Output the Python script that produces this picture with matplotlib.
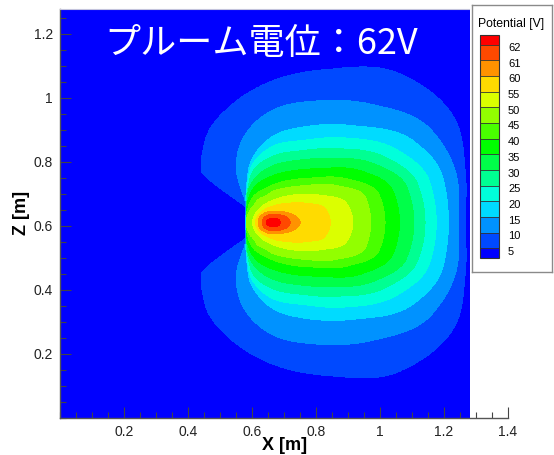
import numpy as np
import matplotlib.pyplot as plt
from matplotlib.ticker import MultipleLocator
from matplotlib.transforms import ScaledTranslation

plt.rcParams['font.family'] = ['Liberation Sans', 'DejaVu Sans']

#---    Plume potential: radius [m] of each potential level along rays from the peak
x_peak, z_peak = 0.667, 0.611
v_peak = 63.0
x_end = 1.278          # edge of the computational domain (X and Z)

angles = [0, 15, 30, 50, 70, 90, 110, 125, 135, 140, 145, 150, 165, 180]   # deg, mirrored below the axis
levels = [62, 61, 60, 55, 50, 45, 40, 35, 30, 25, 20, 15, 10, 5]

r62 = [0.021, 0.020, 0.0177, 0.0151, 0.0135, 0.013, 0.0135, 0.0146, 0.0156, 0.0163, 0.017, 0.0177, 0.020, 0.021]
r61 = [0.052, 0.0472, 0.0389, 0.0308, 0.0267, 0.0255, 0.0262, 0.0277, 0.0291, 0.030, 0.0308, 0.0317, 0.034, 0.035]
r60 = [0.083, 0.0726, 0.0567, 0.0433, 0.037, 0.0352, 0.0362, 0.0382, 0.0401, 0.0412, 0.0424, 0.0435, 0.0467, 0.048]
r55 = [0.177, 0.1665, 0.118, 0.078, 0.0598, 0.051, 0.0476, 0.0475, 0.0484, 0.0491, 0.0499, 0.0509, 0.0537, 0.055]
r50 = [0.248, 0.2347, 0.1688, 0.1122, 0.0836, 0.0695, 0.0628, 0.061, 0.0609, 0.0611, 0.0614, 0.0618, 0.0633, 0.064]
r45 = [0.303, 0.298, 0.2286, 0.149, 0.114, 0.097, 0.085, 0.0855, 0.081, 0.081, 0.080, 0.082, 0.083, 0.084]
r40 = [0.348, 0.340, 0.269, 0.180, 0.139, 0.117, 0.106, 0.1026, 0.0976, 0.095, 0.094, 0.091, 0.087, 0.084]
r35 = [0.393, 0.385, 0.319, 0.218, 0.171, 0.146, 0.131, 0.118, 0.108, 0.104, 0.0995, 0.095, 0.087, 0.084]
r30 = [0.438, 0.4300, 0.364, 0.260, 0.205, 0.177, 0.152, 0.131, 0.115, 0.107, 0.101, 0.097, 0.087, 0.084]
r25 = [0.473, 0.4650, 0.405, 0.300, 0.237, 0.207, 0.1755, 0.136, 0.117, 0.108, 0.1017, 0.097, 0.087, 0.084]
r20 = [0.508, 0.503, 0.449, 0.344, 0.272, 0.238, 0.191, 0.141, 0.118, 0.1095, 0.1022, 0.097, 0.087, 0.084]
r15 = [0.546, 0.5466, 0.506, 0.393, 0.319, 0.269, 0.202, 0.142, 0.119, 0.110, 0.1026, 0.097, 0.087, 0.084]
r10 = [0.578, 0.590, 0.5716, 0.480, 0.4035, 0.351, 0.2777, 0.199, 0.137, 0.116, 0.1045, 0.097, 0.087, 0.084]
r5 = [0.599, 0.6196, 0.652, 0.608, 0.509, 0.443, 0.388, 0.350, 0.3125, 0.2925, 0.272, 0.097, 0.087, 0.084]
radii = [r62, r61, r60, r55, r50, r45, r40, r35, r30, r25, r20, r15, r10, r5]

x_ticks = [0.2, 0.4, 0.6, 0.8, 1.0, 1.2, 1.4]
x_labels = ['0.2', '0.4', '0.6', '0.8', '1', '1.2', '1.4']
z_ticks = [0.2, 0.4, 0.6, 0.8, 1.0, 1.2]
z_labels = ['0.2', '0.4', '0.6', '0.8', '1', '1.2']

title = 'プルーム電位：62V'

# small rainbow, one colour per band (below 5 ... above 62)
band_colors = ['#0000ff', '#0049ff', '#0092ff', '#00dbff', '#00ffdb', '#00ff92', '#00ff49',
               '#00ff00', '#49ff00', '#92ff00', '#dbff00', '#ffdb00', '#ff9200', '#ff4900', '#ff0000']


def pchip(xk, yk, x):
    # monotone cubic through the ray samples, so the level curves come out round
    xk = np.asarray(xk, float)
    yk = np.asarray(yk, float)
    h = np.diff(xk)
    d = np.diff(yk) / h
    m = np.zeros_like(yk)
    m[0], m[-1] = d[0], d[-1]
    for k in range(1, len(xk) - 1):
        if d[k - 1] * d[k] > 0:
            w1 = 2 * h[k] + h[k - 1]
            w2 = h[k] + 2 * h[k - 1]
            m[k] = (w1 + w2) / (w1 / d[k - 1] + w2 / d[k])
    i = np.clip(np.searchsorted(xk, x) - 1, 0, len(xk) - 2)
    t = (x - xk[i]) / h[i]
    return ((2 * t**3 - 3 * t**2 + 1) * yk[i] + (t**3 - 2 * t**2 + t) * h[i] * m[i]
            + (-2 * t**3 + 3 * t**2) * yk[i + 1] + (t**3 - t**2) * h[i] * m[i + 1])


#---    Rebuild the potential field on a grid
xs = np.linspace(0, x_end, 720)
zs = np.linspace(0, x_end, 720)
X, Z = np.meshgrid(xs, zs)
r = np.hypot(X - x_peak, Z - z_peak)
th = np.degrees(np.abs(np.arctan2(Z - z_peak, X - x_peak)))

# mirror the samples past 0 and 180 deg
ang_ext = [-50, -30, -15] + angles + [195, 210, 215]
prof_r = [np.zeros_like(r)]
for rr in radii:
    rr_ext = [rr[3], rr[2], rr[1]] + rr + [rr[-2], rr[-3], rr[-4]]
    prof_r.append(pchip(ang_ext, rr_ext, th))
prof_r.append(prof_r[-1] + 0.03)
prof_v = [v_peak] + levels + [0.0]
for i in range(1, len(prof_r)):
    prof_r[i] = np.maximum(prof_r[i], prof_r[i - 1] + 1e-5)

V = np.zeros_like(r)
for i in range(len(prof_r) - 1):
    r0, r1 = prof_r[i], prof_r[i + 1]
    m = (r >= r0) & (r < r1)
    t = (r - r0) / (r1 - r0)
    V = np.where(m, prof_v[i] + t * (prof_v[i + 1] - prof_v[i]), V)

#---    Graph
fig = plt.figure(figsize=(5.54, 4.55), dpi=100)
ax = fig.add_axes([60 / 554, 37 / 455, 448 / 554, 409 / 455])

lev = sorted(levels)
cs = ax.contourf(X, Z, V, levels=lev, colors=band_colors, extend='both')
cs.set_edgecolor('face')
cs.set_linewidth(0.3)

ax.set_xlim(0, 1.4)
ax.set_ylim(0, x_end)
ax.spines['right'].set_visible(False)
ax.spines['top'].set_bounds(0, x_end)
ax.spines['top'].set_color('#c4c4dc')
for s in ['left', 'bottom']:
    ax.spines[s].set_color('#555555')
    ax.spines[s].set_linewidth(1.0)

ax.set_xticks(x_ticks)
ax.set_xticklabels(x_labels)
ax.set_yticks(z_ticks)
ax.set_yticklabels(z_labels)
ax.xaxis.set_minor_locator(MultipleLocator(0.05))
ax.yaxis.set_minor_locator(MultipleLocator(0.05))
ax.tick_params(which='both', direction='in', top=False, right=False, color='#444444', width=0.8)
ax.tick_params(which='major', length=8, labelsize=10, labelcolor='#222222', pad=5)
ax.tick_params(which='minor', length=4.5)

fig.text(285 / 554, 1 - 445 / 455, 'X [m]', ha='center', va='center', fontsize=13, fontweight='bold')
fig.text(21 / 554, 1 - 213 / 455, 'Z [m]', ha='center', va='center', fontsize=13,
         fontweight='bold', rotation=90)

ax.text(0.14, 1.168, title, color='white', fontsize=26, ha='left', va='center',
        family=['Noto Sans CJK JP', 'DejaVu Sans'])

#---    Legend box
box = fig.add_axes([472 / 554, 1 - 272 / 455, 80 / 554, 267 / 455])
box.set_xticks([])
box.set_yticks([])
for s in box.spines.values():
    s.set_color('#8a8a8a')
    s.set_linewidth(1.0)
box.text(0.08, 1 - 19 / 267, 'Potential [V]', transform=box.transAxes, fontsize=8.8,
         ha='left', va='center')

cax = fig.add_axes([480 / 554, 1 - 258 / 455, 19 / 554, 223 / 455])
cbar = fig.colorbar(cs, cax=cax, extend='both', extendrect=True, extendfrac=0.047,
                    drawedges=True)
cbar.set_ticks(lev, labels=[str(v) for v in lev])
cbar.ax.tick_params(length=0, labelsize=8, pad=6.5)
cbar.outline.set_edgecolor('#333333')
cbar.outline.set_linewidth(0.8)
cbar.dividers.set_color('#333333')
cbar.dividers.set_linewidth(0.6)
shift = ScaledTranslation(0, -2.5 / 100, fig.dpi_scale_trans)
for lbl in cbar.ax.get_yticklabels():
    lbl.set_transform(lbl.get_transform() + shift)

plt.savefig('out.png', dpi=100)
